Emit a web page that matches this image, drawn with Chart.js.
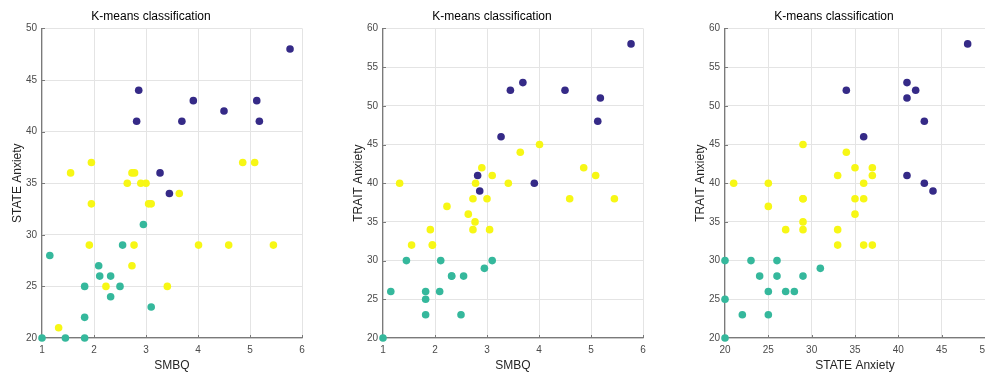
<!DOCTYPE html>
<html>
<head>
<meta charset="utf-8">
<script src="https://cdn.jsdelivr.net/npm/chart.js@4/dist/chart.umd.min.js"></script>
<style>
  html, body { margin: 0; padding: 0; background: #fff; width: 985px; height: 373px; overflow: hidden; position: relative; }
  canvas { position: absolute; top: 0; }
</style>
</head>
<body>
<canvas id="c1" width="330" height="373" style="left:0px"></canvas>
<canvas id="c2" width="330" height="373" style="left:341px"></canvas>
<canvas id="c3" width="330" height="373" style="left:683px"></canvas>
<script>
// ---- data (one entry per subject) ----
const smbq = [
  2.86, 3.91, 5.13, 4.50, 2.82, 3.69, 5.18, 5.77, 3.27, 3.45,
  1.00, 1.15, 1.45, 1.82, 1.82, 1.82, 2.09, 2.11, 2.32, 2.32, 2.50, 2.55, 2.95, 3.10,
  1.32, 1.55, 1.95, 1.95, 1.91, 2.23, 2.64, 2.73, 2.78, 2.73, 2.77, 2.90, 3.00, 3.05, 3.10, 3.41, 3.64, 4.01, 4.59, 4.86, 5.09, 5.45
];
const stateAnxiety = [
  44, 43, 43, 42, 41, 41, 41, 48, 36, 34,
  20, 28, 20, 25, 22, 20, 27, 26, 26, 24, 25, 29, 31, 23,
  21, 36, 37, 33, 29, 25, 35, 36, 36, 27, 29, 35, 35, 33, 33, 25, 34, 29, 29, 37, 37, 29
];
const traitAnxiety = [
  39, 40, 48, 52, 41, 53, 51, 58, 46, 52,
  20, 26, 30, 26, 23, 25, 26, 30, 28, 28, 23, 28, 29, 30,
  40, 32, 32, 32, 34, 37, 36, 38, 40, 34, 35, 42, 38, 34, 41, 40, 44, 45, 38, 42, 41, 38
];
const cluster = [
  1, 1, 1, 1, 1, 1, 1, 1, 1, 1,
  2, 2, 2, 2, 2, 2, 2, 2, 2, 2, 2, 2, 2, 2,
  3, 3, 3, 3, 3, 3, 3, 3, 3, 3, 3, 3, 3, 3, 3, 3, 3, 3, 3, 3, 3, 3
];
const chartTitle = "K-means classification";
const smbqTicks = [1, 2, 3, 4, 5, 6];
const stateTicks = [20, 25, 30, 35, 40, 45, 50];
const traitTicks = [20, 25, 30, 35, 40, 45, 50, 55, 60];

// ---- styling ----
const clusterColors = { 1: '#352A87', 2: '#35B89C', 3: '#F7F715' };
const FONT = "'Liberation Sans', Arial, Helvetica, sans-serif";
const AXIS_COLOR = '#7a7a7a';
const GRID_COLOR = '#e4e4e4';

const innerTicks = {
  id: 'innerTicks',
  beforeDatasetsDraw(chart) {
    const ctx = chart.ctx, a = chart.chartArea;
    const xs = chart.scales.x, ys = chart.scales.y;
    ctx.save();
    ctx.strokeStyle = AXIS_COLOR;
    ctx.lineWidth = 1;
    ctx.beginPath();
    xs.ticks.forEach(t => {
      const px = Math.round(xs.getPixelForValue(t.value)) + 0.5;
      ctx.moveTo(px, a.bottom); ctx.lineTo(px, a.bottom - 3);
    });
    ys.ticks.forEach(t => {
      const py = Math.round(ys.getPixelForValue(t.value)) + 0.5;
      ctx.moveTo(a.left, py); ctx.lineTo(a.left + 3, py);
    });
    ctx.stroke();
    ctx.restore();
  }
};

function makeChart(id, xs, ys, xTicks, yTicks, xLabel, yLabel) {
  const pts = xs.map((x, i) => ({ x: x, y: ys[i] }));
  const colors = cluster.map(c => clusterColors[c]);
  const axis = (ticks, label, isY) => ({
    type: 'linear',
    min: ticks[0],
    max: ticks[ticks.length - 1],
    afterBuildTicks: s => { s.ticks = ticks.map(v => ({ value: v })); },
    afterFit: s => { if (isY) s.width = 42; else s.height = 35; },
    grid: { color: GRID_COLOR, lineWidth: 1, drawTicks: false },
    border: { display: true, color: AXIS_COLOR, width: 1.2 },
    ticks: { color: '#4a4a4a', font: { family: FONT, size: 10 }, padding: isY ? 5 : 6, maxRotation: 0, autoSkip: false },
    title: { display: true, text: label, color: '#262626', font: { family: FONT, size: 12 },
             padding: isY ? { top: 10, bottom: 0 } : { top: 0, bottom: 0 } }
  });
  return new Chart(document.getElementById(id), {
    type: 'scatter',
    data: { datasets: [{ data: pts, backgroundColor: colors, borderWidth: 0, pointRadius: 3.8, pointHoverRadius: 3.8, clip: false }] },
    options: {
      responsive: false,
      animation: false,
      layout: { padding: { left: 0, right: 28, top: 0, bottom: 0 } },
      plugins: {
        legend: { display: false },
        tooltip: { enabled: false },
        title: { display: true, text: chartTitle, color: '#000', font: { family: FONT, size: 12, weight: 'normal' },
                 padding: { top: 9, bottom: 5 } }
      },
      scales: { x: axis(xTicks, xLabel, false), y: axis(yTicks, yLabel, true) }
    },
    plugins: [innerTicks]
  });
}

makeChart('c1', smbq, stateAnxiety, smbqTicks, stateTicks, 'SMBQ', 'STATE Anxiety');
makeChart('c2', smbq, traitAnxiety, smbqTicks, traitTicks, 'SMBQ', 'TRAIT Anxiety');
makeChart('c3', stateAnxiety, traitAnxiety, stateTicks, traitTicks, 'STATE Anxiety', 'TRAIT Anxiety');
</script>
</body>
</html>
